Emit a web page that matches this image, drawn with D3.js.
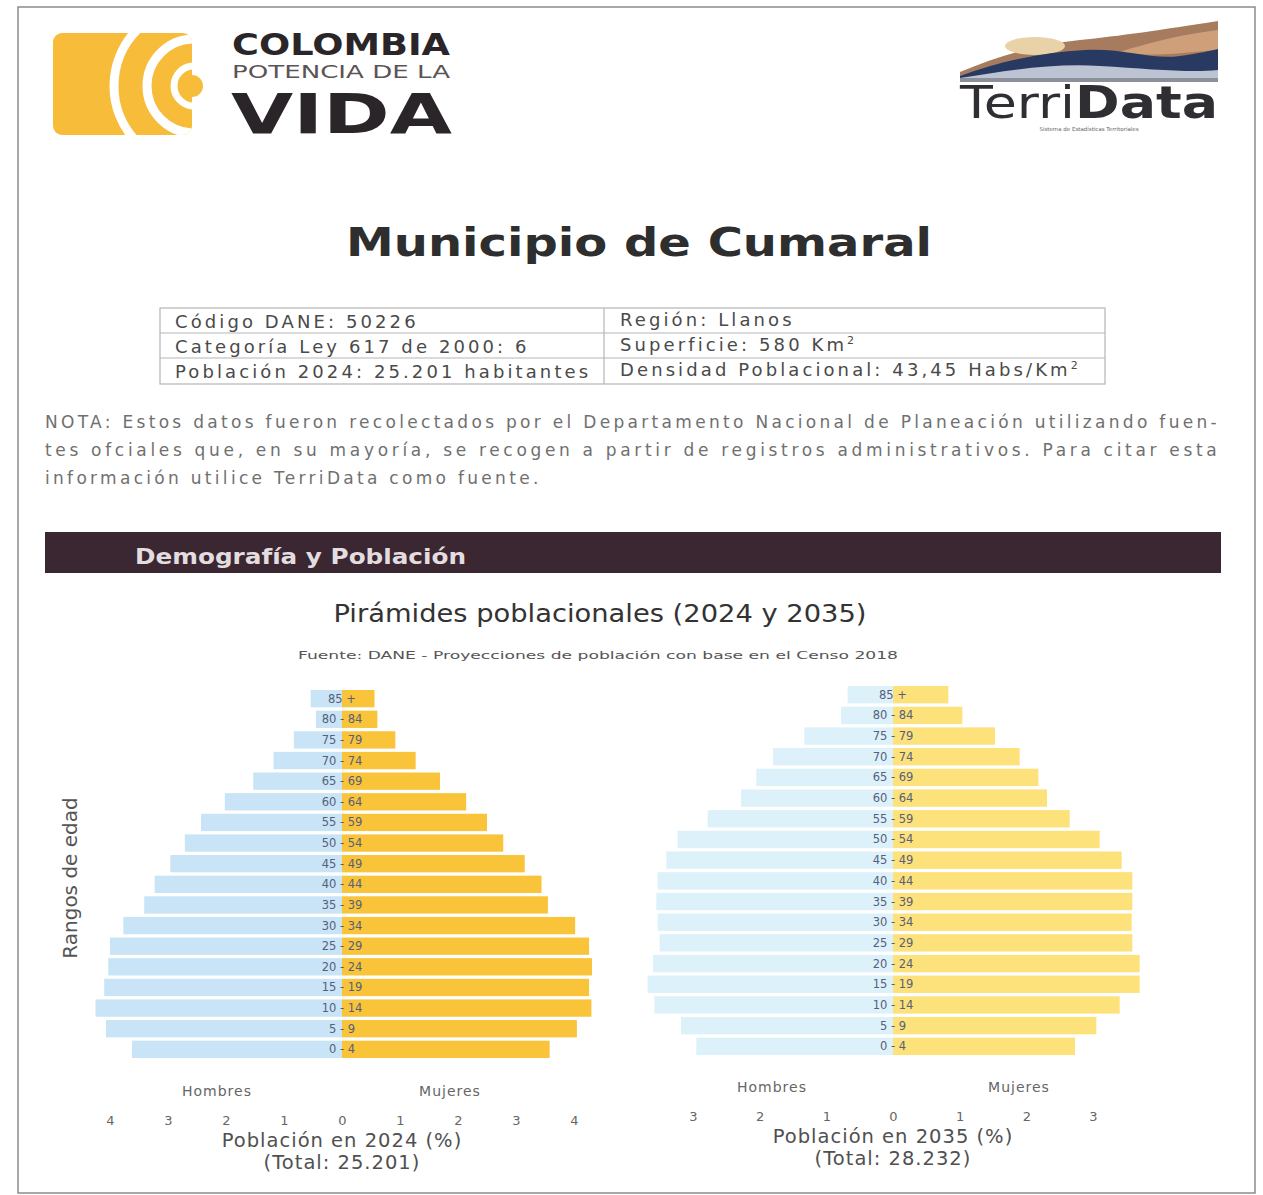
<!DOCTYPE html>
<html>
<head>
<meta charset="utf-8">
<script src="https://cdnjs.cloudflare.com/ajax/libs/d3/7.8.5/d3.min.js"></script>
<style>
  body { margin: 0; background: #fff; }
  svg { display: block; }
  text { font-family: "DejaVu Sans", sans-serif; }
</style>
</head>
<body>
<div id="page"></div>
<script>
// grupos de edad, de abajo hacia arriba
const ageGroups = ['0 - 4', '5 - 9', '10 - 14', '15 - 19', '20 - 24', '25 - 29', '30 - 34',
  '35 - 39', '40 - 44', '45 - 49', '50 - 54', '55 - 59', '60 - 64', '65 - 69', '70 - 74',
  '75 - 79', '80 - 84', '85 +'];

// porcentaje de la poblacion total
const hombres2024 = [3.62, 4.07, 4.25, 4.10, 4.03, 4.00, 3.77, 3.41, 3.23, 2.96, 2.71, 2.43, 2.02, 1.53, 1.18, 0.83, 0.45, 0.54];
const mujeres2024 = [3.58, 4.05, 4.30, 4.26, 4.31, 4.26, 4.02, 3.55, 3.44, 3.15, 2.78, 2.50, 2.14, 1.69, 1.27, 0.92, 0.61, 0.56];
const hombres2035 = [2.95, 3.18, 3.58, 3.68, 3.60, 3.50, 3.53, 3.55, 3.53, 3.40, 3.23, 2.78, 2.28, 2.05, 1.80, 1.33, 0.78, 0.68];
const mujeres2035 = [2.73, 3.05, 3.40, 3.70, 3.70, 3.59, 3.58, 3.59, 3.59, 3.43, 3.10, 2.65, 2.31, 2.18, 1.90, 1.53, 1.04, 0.83];

const ticks2024 = [-4, -3, -2, -1, 0, 1, 2, 3, 4];
const ticks2035 = [-3, -2, -1, 0, 1, 2, 3];

const fichaIzq = ['Código DANE: 50226', 'Categoría Ley 617 de 2000: 6', 'Población 2024: 25.201 habitantes'];
const fichaDer = [['Región: Llanos', ''], ['Superficie: 580 Km', '2'], ['Densidad Poblacional: 43,45 Habs/Km', '2']];

const notaLineas = [
  'NOTA: Estos datos fueron recolectados por el Departamento Nacional de Planeación utilizando fuen-',
  'tes ofciales que, en su mayoría, se recogen a partir de registros administrativos. Para citar esta',
  'información utilice TerriData como fuente.'
];

const W = 1263, H = 1195;

const svg = d3.select('#page')
  .append('svg')
  .attr('width', W)
  .attr('height', H);

// marco de la hoja escaneada
svg.append('rect')
  .attr('x', 18).attr('y', 7)
  .attr('width', 1237).attr('height', 1186)
  .attr('fill', 'none')
  .attr('stroke', '#8c8c8c')
  .attr('stroke-width', 1.5);

// ---- logo Colombia ----
const logo = svg.append('g');
const clip = svg.append('defs').append('clipPath').attr('id', 'clipLogo');
clip.append('rect').attr('x', 53).attr('y', 33).attr('width', 139).attr('height', 102).attr('rx', 9);

const logoShape = logo.append('g').attr('clip-path', 'url(#clipLogo)');
logoShape.append('rect').attr('x', 53).attr('y', 33).attr('width', 139).attr('height', 102).attr('fill', '#f7bd3a');
[[80, 9], [47, 9], [20, 7]].forEach(([r, sw]) => {
  logoShape.append('circle')
    .attr('cx', 194).attr('cy', 86).attr('r', r)
    .attr('fill', 'none').attr('stroke', '#fff').attr('stroke-width', sw);
});
logo.append('circle').attr('cx', 192).attr('cy', 86).attr('r', 11).attr('fill', '#f7bd3a');

logo.append('text').attr('x', 232).attr('y', 55)
  .attr('font-size', 30).attr('font-weight', 'bold').attr('fill', '#2a2528')
  .attr('textLength', 218).attr('lengthAdjust', 'spacingAndGlyphs')
  .text('COLOMBIA');
logo.append('text').attr('x', 232).attr('y', 78)
  .attr('font-size', 18).attr('fill', '#5a5456')
  .attr('textLength', 218).attr('lengthAdjust', 'spacingAndGlyphs')
  .text('POTENCIA DE LA');
logo.append('text').attr('x', 231).attr('y', 133)
  .attr('font-size', 56).attr('font-weight', 'bold').attr('fill', '#2a2528')
  .attr('textLength', 221).attr('lengthAdjust', 'spacingAndGlyphs')
  .text('VIDA');

// ---- logo TerriData ----
const td = svg.append('g');
td.append('path').attr('fill', '#a77c5e')
  .attr('d', 'M960,72 C1000,55 1040,44 1080,40 C1120,36 1160,30 1218,21 L1218,80 L960,80 Z');
td.append('ellipse').attr('cx', 1035).attr('cy', 46).attr('rx', 30).attr('ry', 9).attr('fill', '#ead2a8');
td.append('path').attr('fill', '#cf9f7a')
  .attr('d', 'M1120,52 C1150,42 1185,34 1218,30 L1218,50 C1190,52 1150,58 1120,52 Z');
td.append('path').attr('fill', '#283a62')
  .attr('d', 'M960,76 C1005,60 1045,52 1085,50 C1125,48 1150,60 1180,56 C1200,53 1210,51 1218,49 L1218,80 L960,80 Z');
td.append('path').attr('fill', '#bcc4d4')
  .attr('d', 'M960,78 C1010,70 1055,63 1100,66 C1150,69 1190,73 1218,70 L1218,80 L960,80 Z');
td.append('rect').attr('x', 960).attr('y', 78).attr('width', 258).attr('height', 4).attr('fill', '#8b909a');

const tdText = td.append('text').attr('x', 960).attr('y', 118)
  .attr('font-size', 44).attr('fill', '#2f2f33')
  .attr('textLength', 258).attr('lengthAdjust', 'spacingAndGlyphs');
tdText.append('tspan').text('Terri');
tdText.append('tspan').attr('font-weight', 'bold').text('Data');
td.append('text').attr('x', 1089).attr('y', 131).attr('text-anchor', 'middle')
  .attr('font-size', 5.5).attr('fill', '#666')
  .text('Sistema de Estadísticas Territoriales');

// ---- titulo ----
svg.append('text').attr('x', 346).attr('y', 256)
  .attr('font-size', 39).attr('font-weight', 'bold').attr('fill', '#2e2e2e')
  .attr('textLength', 586).attr('lengthAdjust', 'spacingAndGlyphs')
  .text('Municipio de Cumaral');

// ---- ficha ----
const ficha = svg.append('g').attr('fill', 'none').attr('stroke', '#b5b5b5').attr('stroke-width', 1.2);
const rowY = [308, 333, 358, 384];
ficha.append('rect').attr('x', 160).attr('y', 308).attr('width', 945).attr('height', 76);
rowY.slice(1, 3).forEach(y => ficha.append('line').attr('x1', 160).attr('x2', 1105).attr('y1', y).attr('y2', y));
ficha.append('line').attr('x1', 604).attr('x2', 604).attr('y1', 308).attr('y2', 384);

const fichaTxt = svg.append('g').attr('font-size', 18).attr('fill', '#4a4a4a').attr('letter-spacing', 3.1);
fichaIzq.forEach((t, i) => {
  fichaTxt.append('text').attr('x', 175).attr('y', 328 + i * 25).text(t);
});
fichaDer.forEach(([t, sup], i) => {
  const txt = fichaTxt.append('text').attr('x', 620).attr('y', 326 + i * 25);
  txt.append('tspan').text(t);
  if (sup) txt.append('tspan').attr('dy', -7).attr('font-size', 11).text(sup);
});

// ---- nota ----
const nota = svg.append('g').attr('font-size', 17).attr('fill', '#707070').attr('letter-spacing', 3.3);
notaLineas.forEach((t, i) => {
  const el = nota.append('text').attr('x', 45).attr('y', 428 + i * 28).text(t);
  if (i < 2) el.attr('textLength', 1175).attr('lengthAdjust', 'spacing');
});

// ---- barra de seccion ----
svg.append('rect').attr('x', 45).attr('y', 532).attr('width', 1176).attr('height', 41).attr('fill', '#3b2731');
svg.append('text').attr('x', 135).attr('y', 564)
  .attr('font-size', 21).attr('font-weight', 'bold').attr('fill', '#e4dde0')
  .attr('textLength', 331).attr('lengthAdjust', 'spacingAndGlyphs')
  .text('Demografía y Población');

svg.append('text').attr('x', 600).attr('y', 622).attr('text-anchor', 'middle')
  .attr('font-family', 'Liberation Sans, Arial, sans-serif')
  .attr('font-size', 25).attr('fill', '#333')
  .attr('textLength', 533).attr('lengthAdjust', 'spacingAndGlyphs')
  .text('Pirámides poblacionales (2024 y 2035)');
svg.append('text').attr('x', 598).attr('y', 659).attr('text-anchor', 'middle')
  .attr('font-family', 'Liberation Sans, Arial, sans-serif')
  .attr('font-size', 11).attr('fill', '#555')
  .attr('textLength', 600).attr('lengthAdjust', 'spacingAndGlyphs')
  .text('Fuente: DANE - Proyecciones de población con base en el Censo 2018');

svg.append('text')
  .attr('transform', 'translate(77,878) rotate(-90)')
  .attr('text-anchor', 'middle')
  .attr('font-family', 'Liberation Sans, Arial, sans-serif')
  .attr('font-size', 20).attr('fill', '#555')
  .text('Rangos de edad');

// ---- piramides ----
const drawPyramid = (cfg) => {
  const g = svg.append('g');

  const x = d3.scaleLinear().domain(cfg.domain).range(cfg.xRange);
  const y = d3.scaleBand().domain(ageGroups).range(cfg.yRange).paddingInner(0.16);

  const rows = ageGroups.map((a, i) => ({ age: a, h: cfg.hombres[i], m: cfg.mujeres[i] }));

  g.selectAll('rect.h')
    .data(rows)
    .enter()
    .append('rect')
    .attr('class', 'h')
    .attr('x', d => x(-d.h))
    .attr('y', d => y(d.age))
    .attr('width', d => x(0) - x(-d.h))
    .attr('height', y.bandwidth())
    .attr('fill', cfg.colorH);

  g.selectAll('rect.m')
    .data(rows)
    .enter()
    .append('rect')
    .attr('class', 'm')
    .attr('x', x(0))
    .attr('y', d => y(d.age))
    .attr('width', d => x(d.m) - x(0))
    .attr('height', y.bandwidth())
    .attr('fill', cfg.colorM);

  g.selectAll('text.age')
    .data(rows)
    .enter()
    .append('text')
    .attr('class', 'age')
    .attr('x', x(0))
    .attr('y', d => y(d.age) + y.bandwidth() / 2 + 4)
    .attr('text-anchor', 'middle')
    .attr('font-size', 11.5)
    .attr('fill', '#56607a')
    .text(d => d.age);

  const axis = g.append('g')
    .attr('transform', `translate(0,${cfg.axisY})`)
    .call(d3.axisBottom(x).tickValues(cfg.ticks).tickFormat(d => Math.abs(d)).tickSize(0).tickPadding(0));
  axis.select('.domain').remove();
  axis.selectAll('text')
    .attr('font-family', 'DejaVu Sans, sans-serif')
    .attr('font-size', 13)
    .attr('fill', '#666');

  g.append('text').attr('x', (cfg.xRange[0] + x(0)) / 2 + cfg.sexOffset[0]).attr('y', cfg.axisY - 20)
    .attr('text-anchor', 'middle').attr('font-size', 14).attr('fill', '#666').attr('letter-spacing', 1)
    .text('Hombres');
  g.append('text').attr('x', (cfg.xRange[1] + x(0)) / 2 + cfg.sexOffset[1]).attr('y', cfg.axisY - 20)
    .attr('text-anchor', 'middle').attr('font-size', 14).attr('fill', '#666').attr('letter-spacing', 1)
    .text('Mujeres');

  g.append('text').attr('x', x(0)).attr('y', cfg.axisY + 31)
    .attr('text-anchor', 'middle').attr('font-size', 19.5).attr('fill', '#505050').attr('letter-spacing', 1)
    .text(cfg.titulo);
  g.append('text').attr('x', x(0)).attr('y', cfg.axisY + 53)
    .attr('text-anchor', 'middle').attr('font-size', 19.5).attr('fill', '#505050').attr('letter-spacing', 1)
    .text(cfg.total);
};

drawPyramid({
  hombres: hombres2024,
  mujeres: mujeres2024,
  domain: [-4, 4],
  xRange: [110, 574],
  yRange: [1058, 690],
  ticks: ticks2024,
  axisY: 1116,
  sexOffset: [-9, -8],
  colorH: '#c8e4f6',
  colorM: '#f9c43a',
  titulo: 'Población en 2024 (%)',
  total: '(Total: 25.201)'
});

drawPyramid({
  hombres: hombres2035,
  mujeres: mujeres2035,
  domain: [-3, 3],
  xRange: [693, 1093],
  yRange: [1055, 686],
  ticks: ticks2035,
  axisY: 1112,
  sexOffset: [-21, 26],
  colorH: '#ddf1fb',
  colorM: '#fde17a',
  titulo: 'Población en 2035 (%)',
  total: '(Total: 28.232)'
});
</script>
</body>
</html>
